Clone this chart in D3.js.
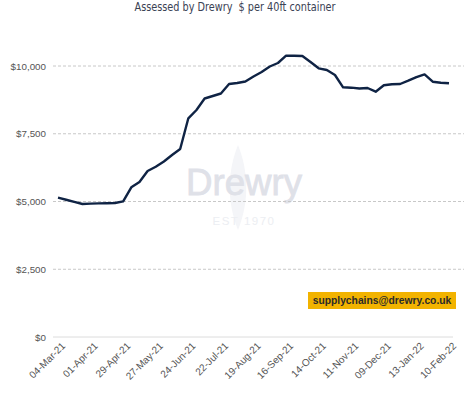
<!DOCTYPE html>
<html><head><meta charset="utf-8">
<script src="https://cdn.jsdelivr.net/npm/d3@7"></script>
<style>body{margin:0;background:#fff}svg{display:block}</style>
</head><body>
<script>
const dates = ["04-Mar-21","11-Mar-21","18-Mar-21","25-Mar-21","01-Apr-21","08-Apr-21","15-Apr-21","22-Apr-21","29-Apr-21","06-May-21","13-May-21","20-May-21","27-May-21","03-Jun-21","10-Jun-21","17-Jun-21","24-Jun-21","01-Jul-21","08-Jul-21","15-Jul-21","22-Jul-21","29-Jul-21","05-Aug-21","12-Aug-21","19-Aug-21","26-Aug-21","02-Sep-21","09-Sep-21","16-Sep-21","23-Sep-21","30-Sep-21","07-Oct-21","14-Oct-21","21-Oct-21","28-Oct-21","04-Nov-21","11-Nov-21","18-Nov-21","25-Nov-21","02-Dec-21","09-Dec-21","16-Dec-21","23-Dec-21","06-Jan-22","13-Jan-22","20-Jan-22","27-Jan-22","03-Feb-22","10-Feb-22"];
const values = [5140,5066,4985,4908,4920,4930,4935,4945,5007,5524,5720,6125,6284,6476,6716,6937,8070,8376,8800,8893,8985,9336,9373,9428,9613,9779,9982,10111,10380,10376,10369,10148,9915,9852,9668,9214,9200,9170,9188,9052,9288,9325,9336,9458,9590,9690,9421,9384,9362];
const tickLabels = ["04-Mar-21","01-Apr-21","29-Apr-21","27-May-21","24-Jun-21","22-Jul-21","19-Aug-21","16-Sep-21","14-Oct-21","11-Nov-21","09-Dec-21","13-Jan-22","10-Feb-22"];
const yTicks = [0,2500,5000,7500,10000];
const title = "Assessed by Drewry  $ per 40ft container";

const W=474,H=397;
const svg=d3.select("body").append("svg").attr("width",W).attr("height",H);
const x=d3.scalePoint().domain(dates).range([58,449]);
const y=d3.scaleLinear().domain([0,10000]).range([337,66]);

// title
svg.append("text").attr("x",235).attr("y",11).attr("text-anchor","middle")
  .attr("font-family","'Liberation Sans Narrow','DejaVu Sans Condensed',sans-serif").attr("font-size",12.5)
  .attr("textLength",201).attr("lengthAdjust","spacingAndGlyphs").attr("xml:space","preserve")
  .attr("fill","#3a4254").text(title);

// watermark
const wm=svg.append("g");
wm.append("path").attr("d","M238,145 C228,170 226,200 238,230 C250,200 248,170 238,145 Z").attr("fill","#f4f5f8");
wm.append("text").attr("x",244).attr("y",195).attr("text-anchor","middle")
  .attr("font-family","'Liberation Sans',Arial,sans-serif").attr("font-size",36)
  .attr("textLength",116).attr("lengthAdjust","spacingAndGlyphs")
  .attr("fill","#dfe1e8").attr("stroke","#dfe1e8").attr("stroke-width",0.8).text("Drewry");
wm.append("text").attr("x",244).attr("y",225).attr("text-anchor","middle")
  .attr("font-family","'Liberation Sans',Arial,sans-serif").attr("font-size",11.5).attr("letter-spacing",1.5)
  .attr("fill","#eceef2").text("EST 1970");

// y axis and gridlines
const yAxis=d3.axisLeft(y).tickValues(yTicks).tickSize(0).tickPadding(0)
  .tickFormat(d=>"$"+d3.format(",")(d));
const gy=svg.append("g").attr("transform","translate(46,0)").call(yAxis);
gy.select(".domain").remove();
gy.selectAll("text").attr("font-family","'Liberation Sans',Arial,sans-serif").attr("font-size",9.8).attr("fill","#555").attr("dy","0.32em");
svg.append("g").selectAll("line").data(yTicks.filter(d=>d>0)).join("line")
  .attr("x1",53).attr("x2",464).attr("y1",d=>y(d)).attr("y2",d=>y(d))
  .attr("stroke","#c8c8c8").attr("stroke-dasharray","3,2").attr("stroke-width",1);
svg.append("line").attr("x1",53).attr("x2",453).attr("y1",y(0)).attr("y2",y(0)).attr("stroke","#dcdcdc").attr("stroke-width",1);

// x axis labels
const xAxis=d3.axisBottom(x).tickValues(tickLabels).tickSize(0).tickPadding(0);
const gx=svg.append("g").attr("transform","translate(0,341)").call(xAxis);
gx.select(".domain").remove();
gx.selectAll("text").attr("font-family","'Liberation Sans',Arial,sans-serif").attr("font-size",10).attr("fill","#555")
  .attr("text-anchor","end").attr("dy","0.35em").attr("transform","translate(5,3) rotate(-45)");

// line
svg.append("path").datum(values.map((v,i)=>[dates[i],v]))
  .attr("fill","none").attr("stroke","#0f2344").attr("stroke-width",2.4).attr("stroke-linejoin","round")
  .attr("d",d3.line().x(d=>x(d[0])).y(d=>y(d[1])));

// email badge
svg.append("rect").attr("x",308).attr("y",292).attr("width",148).attr("height",17).attr("fill","#f2b300");
svg.append("text").attr("x",382).attr("y",304).attr("text-anchor","middle")
  .attr("font-family","'Liberation Sans',Arial,sans-serif").attr("font-size",10.3).attr("font-weight","bold")
  .attr("fill","#2a2a2a").text("supplychains@drewry.co.uk");
</script>
</body></html>
